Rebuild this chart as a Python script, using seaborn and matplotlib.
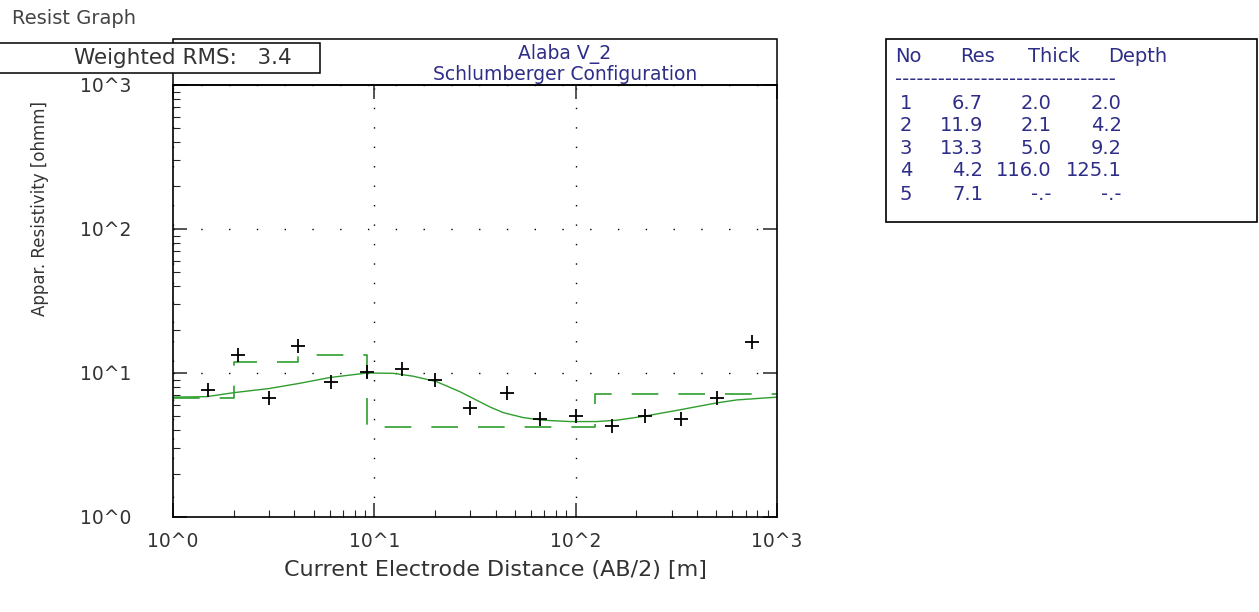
import matplotlib
matplotlib.use('Agg')
import matplotlib.pyplot as plt
import seaborn as sns
from matplotlib.patches import Rectangle
from matplotlib.ticker import FixedLocator, LogLocator, NullFormatter

# field data: AB/2 spacing [m] and apparent resistivity [ohmm]
ab2 = [1.5, 2.1, 3.0, 4.2, 6.1, 9.2, 13.8, 20, 30, 45.5, 66.5, 100, 151, 221, 333, 502, 750]
rho_obs = [7.6, 13.3, 6.7, 15.4, 8.6, 10.2, 10.6, 9.0, 5.7, 7.3, 4.8, 5.0, 4.3, 5.0, 4.8, 6.7, 16.5]

# modelled sounding curve
curve_ab2 = [1.0, 1.47, 2.0, 3.0, 4.3, 6.0, 9.2, 12.4, 15.6, 20.4, 26.7, 37.6, 43.8,
             55, 69, 94, 127, 160, 217, 318, 502, 631, 1000]
curve_rho = [6.8, 6.85, 7.3, 7.8, 8.5, 9.3, 10.0, 9.95, 9.5, 8.7, 7.4, 5.8, 5.3,
             4.9, 4.7, 4.6, 4.6, 4.7, 5.0, 5.5, 6.2, 6.5, 6.8]

# layer model
layer_no = [1, 2, 3, 4, 5]
layer_res = [6.7, 11.9, 13.3, 4.2, 7.1]
layer_thick = [2.0, 2.1, 5.0, 116.0, None]
layer_depth = [2.0, 4.2, 9.2, 125.1, None]

x_ticks = [1, 10, 100, 1000]
x_tick_labels = ['10^0', '10^1', '10^2', '10^3']
y_ticks = [1, 10, 100, 1000]
y_tick_labels = ['10^0', '10^1', '10^2', '10^3']

title_lines = ['Alaba V_2', 'Schlumberger Configuration']
rms_text = 'Weighted RMS:   3.4'

sns.set_style('ticks')
plt.rcParams['font.family'] = ['DejaVu Sans']

W, H = 1259, 612
green = '#2e9e2e'
navy = '#2e2e88'
grey = '#333333'


def fx(x):
    return x / W


def fy(y):
    return 1 - y / H


fig = plt.figure(figsize=(W / 100, H / 100), dpi=100)
fig.patch.set_facecolor('white')
ax = fig.add_axes([fx(173), fy(517), fx(777) - fx(173), fy(85) - fy(517)])
ax.set_xscale('log')
ax.set_yscale('log')

# layered model as a step line
step_x = [x_ticks[0]] + layer_depth[:-1] + [x_ticks[-1]]
step_y = layer_res + [layer_res[-1]]
sns.lineplot(x=step_x, y=step_y, ax=ax, color=green, lw=1.2, drawstyle='steps-post')
ax.lines[-1].set_dashes((16, 12))

sns.lineplot(x=curve_ab2, y=curve_rho, ax=ax, color=green, lw=1.0)
sns.scatterplot(x=ab2, y=rho_obs, ax=ax, marker='+', color='black', s=90,
                linewidth=1.3, zorder=5)

ax.set_xlim(1, 1000)
ax.set_ylim(1, 1000)
ax.xaxis.set_major_locator(FixedLocator(x_ticks))
ax.yaxis.set_major_locator(FixedLocator(y_ticks))
ax.set_xticklabels(x_tick_labels)
ax.set_yticklabels(y_tick_labels)
ax.xaxis.set_minor_locator(LogLocator(base=10, subs=range(2, 10)))
ax.yaxis.set_minor_locator(LogLocator(base=10, subs=range(2, 10)))
ax.xaxis.set_minor_formatter(NullFormatter())
ax.yaxis.set_minor_formatter(NullFormatter())

ax.tick_params(which='major', direction='in', length=10, width=1.1,
               top=True, right=True, labelsize=13.5, labelcolor=grey)
ax.tick_params(which='minor', direction='in', length=5, width=0.8,
               top=False, right=False)
ax.tick_params(axis='x', which='major', pad=11)
ax.tick_params(axis='y', which='major', pad=30)
for sp in ax.spines.values():
    sp.set_visible(True)
    sp.set_color('black')
    sp.set_linewidth(1.2)

ax.xaxis.grid(True, which='major', color='black', lw=1.0, linestyle=(0, (1, 13)))
ax.yaxis.grid(True, which='major', color='black', lw=1.0, linestyle=(0, (1, 19)))
ax.set_xlabel('')
ax.set_ylabel('')

# axis labels
fig.text(fx(495), fy(570), 'Current Electrode Distance (AB/2) [m]', fontsize=16,
         color=grey, ha='center', va='center')
fig.text(fx(40), fy(209), 'Appar. Resistivity [ohmm]', fontsize=12, color=grey,
         rotation=90, ha='center', va='center')

# header boxes
fig.add_artist(Rectangle((fx(173), fy(85)), fx(777) - fx(173), fy(39) - fy(85),
                         transform=fig.transFigure, fill=False, ec='black', lw=1.1))
fig.text(fx(565), fy(54), title_lines[0], fontsize=13.5, color=navy, ha='center', va='center')
fig.text(fx(565), fy(75), title_lines[1], fontsize=13.5, color=navy, ha='center', va='center')

fig.add_artist(Rectangle((fx(-2), fy(73)), fx(320) - fx(-2), fy(43) - fy(73),
                         transform=fig.transFigure, fc='white', ec='black', lw=1.1, zorder=10))
fig.text(fx(183), fy(58), rms_text, fontsize=15.5, color=grey, ha='center', va='center', zorder=11)

fig.text(fx(12), fy(18), 'Resist Graph', fontsize=14, color='#444444', ha='left', va='center')

# layer table
fig.add_artist(Rectangle((fx(886), fy(222)), fx(1257) - fx(886), fy(39) - fy(222),
                         transform=fig.transFigure, fill=False, ec='black', lw=1.2))
for label, xl in zip(['No', 'Res', 'Thick', 'Depth'], [895, 960, 1028, 1108]):
    fig.text(fx(xl), fy(56), label, fontsize=14, color=navy, ha='left', va='center')
fig.text(fx(895), fy(79), '-' * 31, fontsize=14, color=navy, ha='left', va='center')

col_right = [912, 983, 1052, 1122]
row_y = [103, 126, 148, 171, 194]
for i, yy in enumerate(row_y):
    cells = [str(layer_no[i]), f'{layer_res[i]:.1f}',
             '-.-' if layer_thick[i] is None else f'{layer_thick[i]:.1f}',
             '-.-' if layer_depth[i] is None else f'{layer_depth[i]:.1f}']
    for c, xr in zip(cells, col_right):
        fig.text(fx(xr), fy(yy), c, fontsize=14, color=navy, ha='right', va='center')

fig.savefig('out.png', dpi=100)
